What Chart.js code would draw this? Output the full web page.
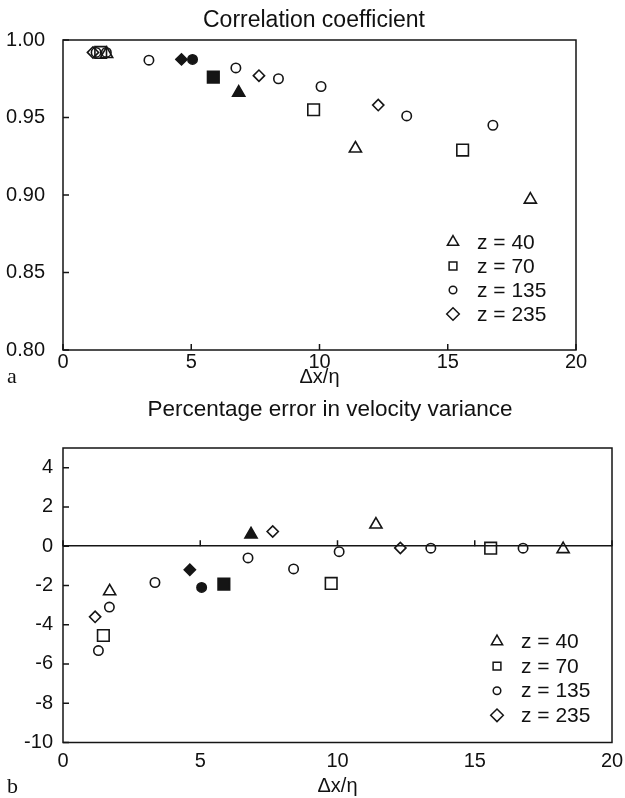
<!DOCTYPE html>
<html>
<head>
  <title>Correlation coefficient / velocity variance error</title>
  <script src="https://cdn.jsdelivr.net/npm/chart.js"></script>
  <style>
    body { margin: 0; background: #fff; }
    #wrap { position: relative; width: 625px; height: 798px; }
    canvas { position: absolute; left: 0; }
    .tag { position: absolute; left: 7px; font: 22px "Liberation Serif", "DejaVu Serif", serif; line-height: 24px; color: #111; }
  </style>
</head>
<body>
<div id="wrap">
  <canvas id="chartA" width="625" height="393" style="top:0"></canvas>
  <canvas id="chartB" width="625" height="405" style="top:393px"></canvas>
  <div class="tag" style="top:364px">a</div>
  <div class="tag" style="top:774px">b</div>
</div>
<script>
const xTicks = [0, 5, 10, 15, 20];
const corrTicks = [0.80, 0.85, 0.90, 0.95, 1.00];
const errTicks = [-10, -8, -6, -4, -2, 0, 2, 4];
const zLevels = [40, 70, 135, 235];

// z = 40 (triangles)
const dxZ40 = [1.70, 6.85, 11.40, 18.22];
const corrZ40 = [0.991, 0.966, 0.930, 0.897];
const errZ40 = [-2.3, 0.6, 1.1, -0.15];
const solidZ40 = [false, true, false, false];

// z = 70 (squares)
const dxZ70 = [1.47, 5.86, 9.77, 15.58];
const corrZ70 = [0.992, 0.976, 0.955, 0.929];
const errZ70 = [-4.55, -1.93, -1.9, -0.1];
const solidZ70 = [false, true, false, false];

// z = 135 (circles)
const dxZ135 = [1.29, 1.69, 3.35, 5.05, 6.74, 8.40, 10.06, 13.40, 16.76];
const corrZ135 = [0.992, 0.992, 0.987, 0.9875, 0.982, 0.975, 0.970, 0.951, 0.945];
const errZ135 = [-5.32, -3.1, -1.85, -2.1, -0.6, -1.16, -0.28, -0.1, -0.1];
const solidZ135 = [false, false, false, true, false, false, false, false, false];

// z = 235 (diamonds)
const dxZ235 = [1.17, 4.62, 7.64, 12.29];
const corrZ235 = [0.992, 0.9875, 0.977, 0.958];
const errZ235 = [-3.6, -1.2, 0.75, -0.09];
const solidZ235 = [false, true, false, false];

const ink = '#151515';
const sans = '"Liberation Sans", Arial, Helvetica, sans-serif';

const shapes = [
  {style: 'triangle', r: 7, lr: 6.5},
  {style: 'rect', r: 8.2, lr: 5.5},
  {style: 'circle', r: 4.7, lr: 3.8},
  {style: 'rectRot', r: 5.6, lr: 6.3}
];

function series(xs, ys, solid, k) {
  return {
    label: 'z = ' + zLevels[k],
    data: xs.map((x, i) => ({x: x, y: ys[i]})),
    pointStyle: shapes[k].style,
    pointRadius: shapes[k].r,
    pointBorderWidth: 1.6,
    pointBorderColor: ink,
    pointBackgroundColor: solid.map(s => s ? ink : 'rgba(0,0,0,0)'),
    legendRadius: shapes[k].lr
  };
}

// box round the plot, inward ticks, heading, legend inside the plot
const framePlugin = {
  id: 'frame',
  afterDraw(chart, args, opts) {
    const {ctx, chartArea: a, scales} = chart;
    ctx.save();
    ctx.strokeStyle = ink;
    ctx.lineWidth = 1.5;
    ctx.strokeRect(a.left, a.top, a.right - a.left, a.bottom - a.top);

    const yLine = opts.xTickAt == null ? a.bottom : scales.y.getPixelForValue(opts.xTickAt);
    ctx.beginPath();
    scales.x.ticks.forEach((t, i) => {
      const px = scales.x.getPixelForTick(i);
      ctx.moveTo(px, yLine);
      ctx.lineTo(px, yLine - 6);
    });
    scales.y.ticks.forEach((t, i) => {
      const py = scales.y.getPixelForTick(i);
      ctx.moveTo(a.left, py);
      ctx.lineTo(a.left + 6, py);
    });
    ctx.stroke();

    ctx.fillStyle = '#111';
    ctx.textAlign = 'center';
    ctx.textBaseline = 'middle';
    ctx.font = opts.titleSize + 'px ' + sans;
    ctx.fillText(opts.title, opts.titleX, opts.titleY);

    const lx = a.right + opts.legendDx;
    const ly = a.bottom + opts.legendDy;
    ctx.font = '21px ' + sans;
    ctx.textAlign = 'left';
    chart.data.datasets.forEach((ds, i) => {
      const y = ly + i * opts.legendStep;
      ctx.fillStyle = 'rgba(0,0,0,0)';
      ctx.strokeStyle = ink;
      ctx.lineWidth = 1.5;
      Chart.helpers.drawPoint(ctx, {pointStyle: ds.pointStyle, radius: ds.legendRadius, rotation: 0, borderWidth: 1.5}, lx, y);
      ctx.fillStyle = '#111';
      ctx.fillText(ds.label, lx + 24, y + 1);
    });
    ctx.restore();
  }
};

function makeChart(id, cfg) {
  return new Chart(document.getElementById(id), {
    type: 'scatter',
    data: {datasets: cfg.datasets},
    plugins: [framePlugin],
    options: {
      responsive: false,
      animation: false,
      devicePixelRatio: 1,
      layout: {padding: {left: 0, right: cfg.padRight, top: cfg.padTop, bottom: 0}},
      plugins: {
        legend: {display: false},
        tooltip: {enabled: false},
        title: {display: false},
        frame: cfg.frame
      },
      scales: {
        x: {
          type: 'linear',
          min: 0,
          max: 20,
          afterBuildTicks: s => { s.ticks = xTicks.map(v => ({value: v})); },
          afterFit: s => { s.height = cfg.xHeight; },
          grid: {display: false},
          border: {display: false},
          ticks: {color: '#111', font: {family: sans, size: 20}, padding: cfg.xPad, maxRotation: 0},
          title: {display: true, text: 'Δx/η', color: '#111', font: {family: sans, size: 20}, padding: {top: 0, bottom: cfg.xTitlePad}}
        },
        y: {
          min: cfg.yMin,
          max: cfg.yMax,
          afterBuildTicks: s => { s.ticks = cfg.yTicks.map(v => ({value: v})); },
          afterFit: s => { s.width = 63; },
          grid: cfg.yGrid,
          border: {display: false},
          ticks: {color: '#111', font: {family: sans, size: 20}, padding: 10, callback: cfg.yFmt}
        }
      }
    }
  });
}

makeChart('chartA', {
  datasets: [
    series(dxZ40, corrZ40, solidZ40, 0),
    series(dxZ70, corrZ70, solidZ70, 1),
    series(dxZ135, corrZ135, solidZ135, 2),
    series(dxZ235, corrZ235, solidZ235, 3)
  ],
  padTop: 40, padRight: 49, xHeight: 43, xPad: -8, xTitlePad: 4,
  yMin: 0.80, yMax: 1.00, yTicks: corrTicks,
  yFmt: v => v.toFixed(2),
  yGrid: {display: false},
  frame: {title: 'Correlation coefficient', titleX: 314, titleY: 21, titleSize: 23,
          xTickAt: null, legendDx: -123, legendDy: -108, legendStep: 24}
});

makeChart('chartB', {
  datasets: [
    series(dxZ40, errZ40, solidZ40, 0),
    series(dxZ70, errZ70, solidZ70, 1),
    series(dxZ135, errZ135, solidZ135, 2),
    series(dxZ235, errZ235, solidZ235, 3)
  ],
  padTop: 55, padRight: 13, xHeight: 55.5, xPad: -1.5, xTitlePad: 0,
  yMin: -10, yMax: 5, yTicks: errTicks,
  yFmt: v => String(v),
  yGrid: {
    display: true,
    drawTicks: false,
    lineWidth: 1.5,
    color: c => (c.tick && c.tick.value === 0) ? ink : 'rgba(0,0,0,0)'
  },
  frame: {title: 'Percentage error in velocity variance', titleX: 330, titleY: 17, titleSize: 22.5,
          xTickAt: 0, legendDx: -115, legendDy: -101, legendStep: 24.6}
});
</script>
</body>
</html>
